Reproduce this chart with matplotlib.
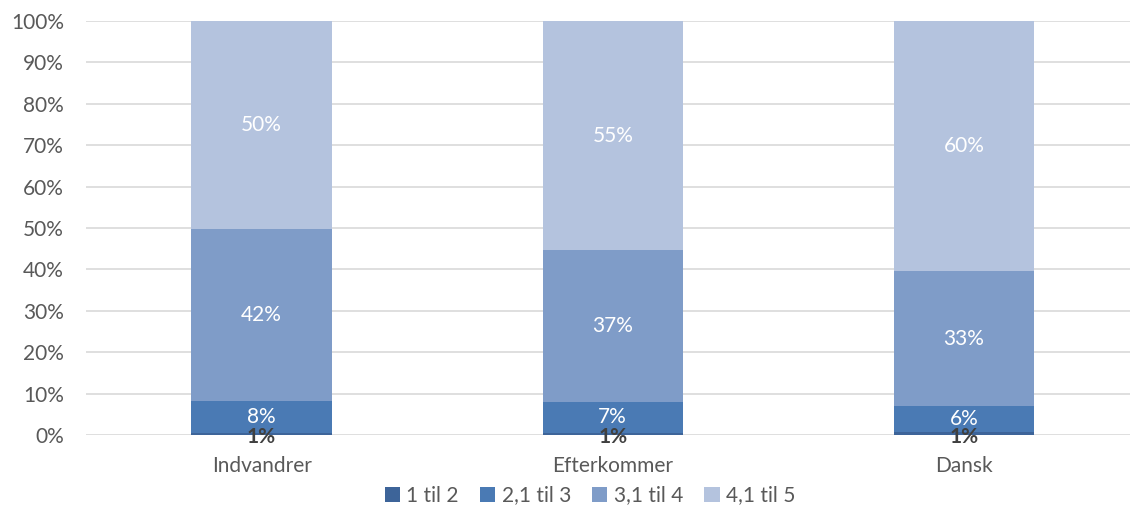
import matplotlib
matplotlib.use("Agg")
import matplotlib.pyplot as plt
import numpy as np

plt.rcParams['font.family'] = ['Lato', 'DejaVu Sans']

categories = ["Indvandrer", "Efterkommer", "Dansk"]
series = ["1 til 2", "2,1 til 3", "3,1 til 4", "4,1 til 5"]
v_1_2 = [0.6, 0.6, 0.7]
v_21_3 = [7.6, 7.3, 6.2]
v_31_4 = [41.6, 36.7, 32.7]
v_41_5 = [50.2, 55.4, 60.4]
colors = ["#3D6499", "#4A7AB4", "#7F9CC8", "#B4C3DE"]

data = [v_1_2, v_21_3, v_31_4, v_41_5]

fig = plt.figure(figsize=(11.30, 5.09), dpi=100)
ax = fig.add_axes([86 / 1130, 1 - 435 / 509, 1 - 86 / 1130, 414 / 509])

fs = 15
x = np.arange(len(categories))
bottom = np.zeros(len(categories))
for i, (name, vals) in enumerate(zip(series, data)):
    vals = np.array(vals)
    ax.bar(x, vals, 0.4, bottom=bottom, color=colors[i], label=name, zorder=3)
    for xi, b, v in zip(x, bottom, vals):
        if i == 0:
            ax.text(xi, b + v / 2 - 0.8, f"{round(v):.0f}%", ha="center", va="center",
                    fontsize=fs, fontweight="bold", color="#404040", zorder=5)
        else:
            ax.text(xi, b + v / 2, f"{round(v):.0f}%", ha="center", va="center",
                    fontsize=fs, color="white", zorder=4)
    bottom += vals

ax.set_xlim(-0.5, 2.473)
ax.set_ylim(0, 100)
ax.set_yticks(np.arange(0, 101, 10))
ax.set_yticklabels([f"{t}%" for t in range(0, 101, 10)])
ax.set_xticks(x)
ax.set_xticklabels(categories)
ax.yaxis.grid(True, color="#D9D9D9", linewidth=1.2, zorder=0)
for s in ax.spines.values():
    s.set_visible(False)
ax.tick_params(axis="both", length=0, labelsize=fs, labelcolor="#595959")
ax.tick_params(axis="y", pad=16)
ax.tick_params(axis="x", pad=15)

fig.legend(loc="lower center", bbox_to_anchor=(0.522, -0.03), ncol=4, frameon=False,
           fontsize=fs, labelcolor="#595959", handlelength=0.75, handleheight=0.75,
           handletextpad=0.3, columnspacing=1.0)

fig.savefig("out.png", dpi=100)
